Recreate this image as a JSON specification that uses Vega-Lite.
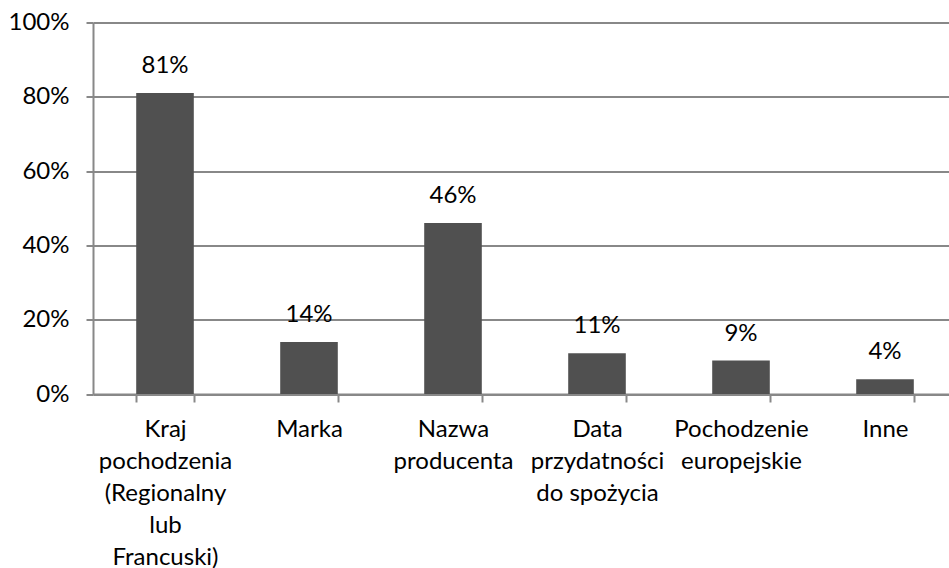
{
  "$schema": "https://vega.github.io/schema/vega-lite/v6.json",
  "width": 864,
  "height": 371.5,
  "autosize": {"type": "none"},
  "padding": {"left": 93, "top": 22.5, "right": 0, "bottom": 174},
  "background": "white",
  "config": {
    "view": {"stroke": null},
    "font": "Lato",
    "text": {"font": "Lato"}
  },
  "data": {
    "values": [
      {"cat": "Kraj\npochodzenia\n(Regionalny\nlub\nFrancuski)", "value": 0.81},
      {"cat": "Marka", "value": 0.14},
      {"cat": "Nazwa\nproducenta", "value": 0.46},
      {"cat": "Data\nprzydatności\ndo spożycia", "value": 0.11},
      {"cat": "Pochodzenie\neuropejskie", "value": 0.09},
      {"cat": "Inne", "value": 0.04}
    ]
  },
  "encoding": {
    "x": {
      "field": "cat",
      "type": "nominal",
      "sort": null,
      "scale": {"paddingInner": 0.6, "paddingOuter": 0.3},
      "axis": {
        "title": null,
        "labelAngle": 0,
        "labelExpr": "split(datum.label, '\\n')",
        "labelFont": "Lato",
        "labelFontSize": 24,
        "labelLineHeight": 32,
        "labelColor": "#000000",
        "labelPadding": 15,
        "labelBaseline": "top",
        "tickBand": "extent",
        "tickSize": 8,
        "tickColor": "#888888",
        "tickWidth": 2,
        "domainColor": "#888888",
        "domainWidth": 2,
        "labelLimit": 300
      }
    },
    "y": {
      "field": "value",
      "type": "quantitative",
      "scale": {"domain": [0, 1], "nice": false},
      "axis": {
        "title": null,
        "values": [0, 0.2, 0.4, 0.6, 0.8, 1],
        "format": ".0%",
        "labelFont": "Lato",
        "labelFontSize": 24,
        "labelColor": "#000000",
        "labelPadding": 17,
        "tickSize": 7,
        "tickColor": "#888888",
        "tickWidth": 2,
        "domainColor": "#888888",
        "domainWidth": 2,
        "gridColor": "#888888",
        "gridWidth": 2
      }
    }
  },
  "layer": [
    {"mark": {"type": "bar", "color": "#505050"}},
    {
      "mark": {"type": "text", "baseline": "alphabetic", "dy": -20, "fontSize": 24, "font": "Lato", "color": "#000000"},
      "encoding": {"text": {"field": "value", "format": ".0%"}}
    }
  ]
}
